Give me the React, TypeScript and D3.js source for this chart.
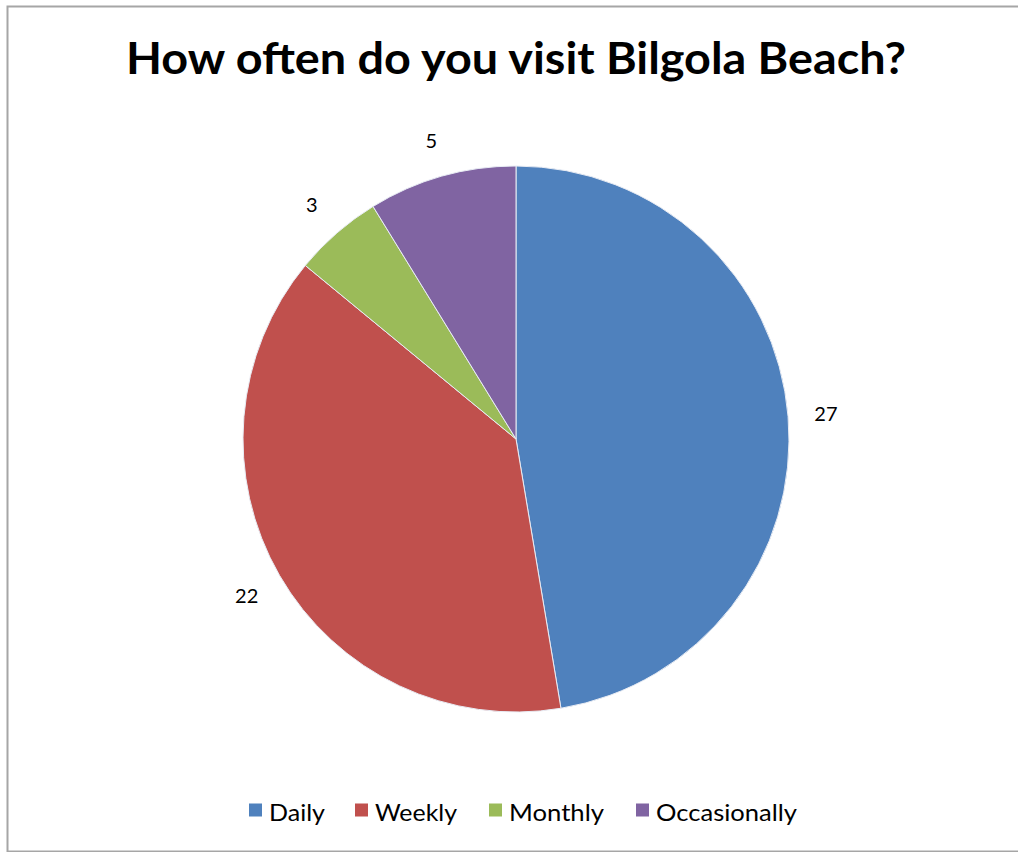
import React from "react";
import * as d3 from "d3";

const categories = ["Daily", "Weekly", "Monthly", "Occasionally"];
const values = [27, 22, 3, 5];
const colors = ["#4F81BD", "#C0504D", "#9BBB59", "#8064A2"];
const title = "How often do you visit Bilgola Beach?";

const W = 1018;
const H = 852;
const cx = 516;
const cy = 439;
const R = 273;
const labelR = 311;

const legendSquareX = [249, 355, 489, 636];
const legendTextW = [56, 82, 95, 141];

export default function App() {
  const data = categories.map((c, i) => ({ c, v: values[i], col: colors[i] }));
  const pie = d3.pie<any>().sort(null).value((d: any) => d.v);
  const arcs = pie(data);
  const arc = d3.arc<any>().innerRadius(0).outerRadius(R);
  const labelArc = d3.arc<any>().innerRadius(labelR).outerRadius(labelR);

  return (
    <svg
      width={W}
      height={H}
      style={{ position: "absolute", left: 0, top: 0, background: "#fff" }}
      fontFamily="Lato, 'Open Sans', sans-serif"
    >
      <rect x={7.5} y={6.5} width={W + 10} height={845} fill="#fff" stroke="#a6a6a6" strokeWidth={2} />
      <text
        x={516}
        y={74}
        textAnchor="middle"
        fontSize={44}
        fontWeight="bold"
        fill="#000"
        textLength={780}
        lengthAdjust="spacingAndGlyphs"
      >
        {title}
      </text>
      <g transform={`translate(${cx},${cy})`}>
        {arcs.map((a, i) => (
          <path key={i} d={arc(a) as string} fill={a.data.col} stroke="#e8ecf4" strokeWidth={1} />
        ))}
        {arcs.map((a, i) => {
          const [x, y] = labelArc.centroid(a);
          return (
            <text key={i} x={x} y={y} textAnchor="middle" dominantBaseline="central" fontSize={20} fill="#000">
              {a.data.v}
            </text>
          );
        })}
      </g>
      {data.map((d, i) => (
        <g key={i} transform={`translate(${legendSquareX[i]},810)`}>
          <rect x={0} y={-6.5} width={13} height={13} fill={d.col} />
          <text
            x={20}
            y={1}
            dominantBaseline="central"
            fontSize={24}
            fill="#000"
            textLength={legendTextW[i]}
            lengthAdjust="spacingAndGlyphs"
          >
            {d.c}
          </text>
        </g>
      ))}
    </svg>
  );
}
